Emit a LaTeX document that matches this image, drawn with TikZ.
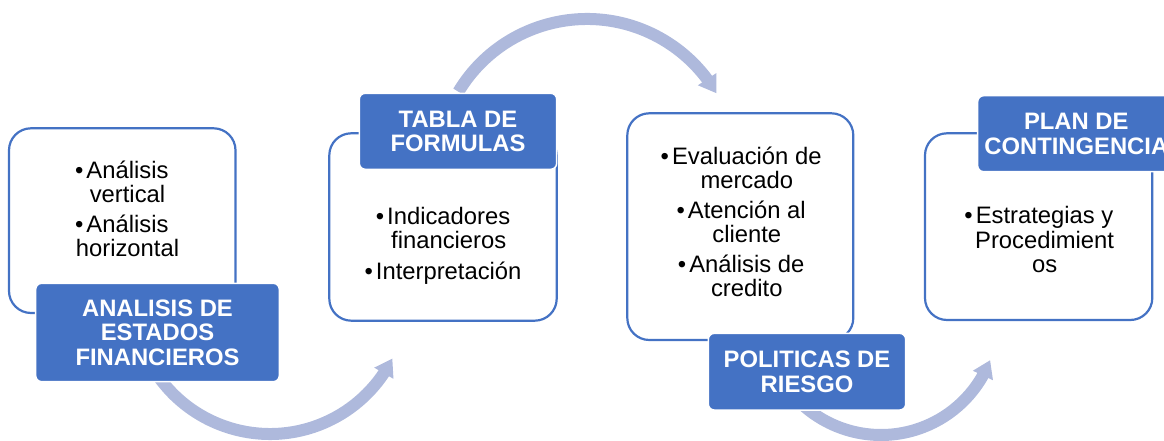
\documentclass[tikz,border=0pt]{standalone}
\usepackage{fontspec}
\setmainfont{Liberation Sans}
\usetikzlibrary{arrows.meta,bending,calc}
\definecolor{accent}{HTML}{4472C4}
\definecolor{arrowc}{RGB}{174,185,220}
\newcommand{\bul}{\llap{\textbullet\hspace{3pt}}}
\begin{document}
\begin{tikzpicture}[x=1pt,y=1pt,
  whitebox/.style={draw=accent, line width=2.2pt, fill=white, rounded corners=22pt, inner sep=0pt},
  labelbox/.style={fill=accent, draw=white, line width=1.5pt, rounded corners=6pt, inner sep=0pt,
     text=white, font=\fontsize{23.8}{24.5}\selectfont\bfseries, align=center},
  bodytext/.style={font=\fontsize{23.8}{24.5}\selectfont, align=center, anchor=base, inner sep=0pt},
  flowarrow/.style={draw=arrowc, line width=12pt, -{Triangle[width=21pt,length=17pt]}}
]
\useasboundingbox (0,0) rectangle (1164,441);
\clip (0,0) rectangle (1164,441);

% arc centres
\coordinate (c1) at (270,144);
\coordinate (c2) at (587,272);
\coordinate (c3) at (881,123);

% arrows
\draw[flowarrow] ($(c1)+(210:137)$) arc[start angle=210, end angle=333.3, radius=137];
\draw[flowarrow] ($(c2)+(149:150)$) arc[start angle=149, end angle=30.3, radius=150];
\draw[flowarrow] ($(c3)+(225:117)$) arc[start angle=225, end angle=338.9, radius=117];

% white boxes
\node[whitebox, minimum width=226.5pt, minimum height=184.7pt] (b1) at (122.25,220.35) {};
\node[whitebox, minimum width=227.4pt, minimum height=187.4pt] (b2) at (443,214) {};
\node[whitebox, minimum width=226pt, minimum height=226.7pt] (b3) at (740.3,214.35) {};
\node[whitebox, minimum width=227.3pt, minimum height=186.7pt] (b4) at (1038.65,214.35) {};

% body texts (base anchor = last line baseline)
\node[bodytext] (t1) at (127.5,184.3) {\bul Análisis\\vertical\\[5pt]\bul Análisis\\horizontal};
\node[bodytext] (t2) at (448.7,161.7) {\bul Indicadores\\financieros\\[6pt]\bul Interpretación};
\node[bodytext] (t3) at (746.8,144.3) {\bul Evaluación de\\mercado\\[5pt]\bul Atención al\\cliente\\[5pt]\bul Análisis de\\credito};
\node[bodytext] (t4) at (1044.6,168.3) {\bul Estrategias y\\Procedimient\\os};

% labels
\node[labelbox, minimum width=243.6pt, minimum height=98.4pt] (l1) at (157.5,108.5) {ANALISIS DE\\ESTADOS\\FINANCIEROS};
\node[labelbox, minimum width=197.4pt, minimum height=76pt] (l2) at (458,309.7) {TABLA DE\\FORMULAS};
\node[labelbox, minimum width=197.4pt, minimum height=76.7pt] (l3) at (807,69.3) {POLITICAS DE\\RIESGO};
\node[labelbox, minimum width=197.3pt, minimum height=76pt] (l4) at (1076.3,307.3) {PLAN DE\\CONTINGENCIA};
\end{tikzpicture}
\end{document}
